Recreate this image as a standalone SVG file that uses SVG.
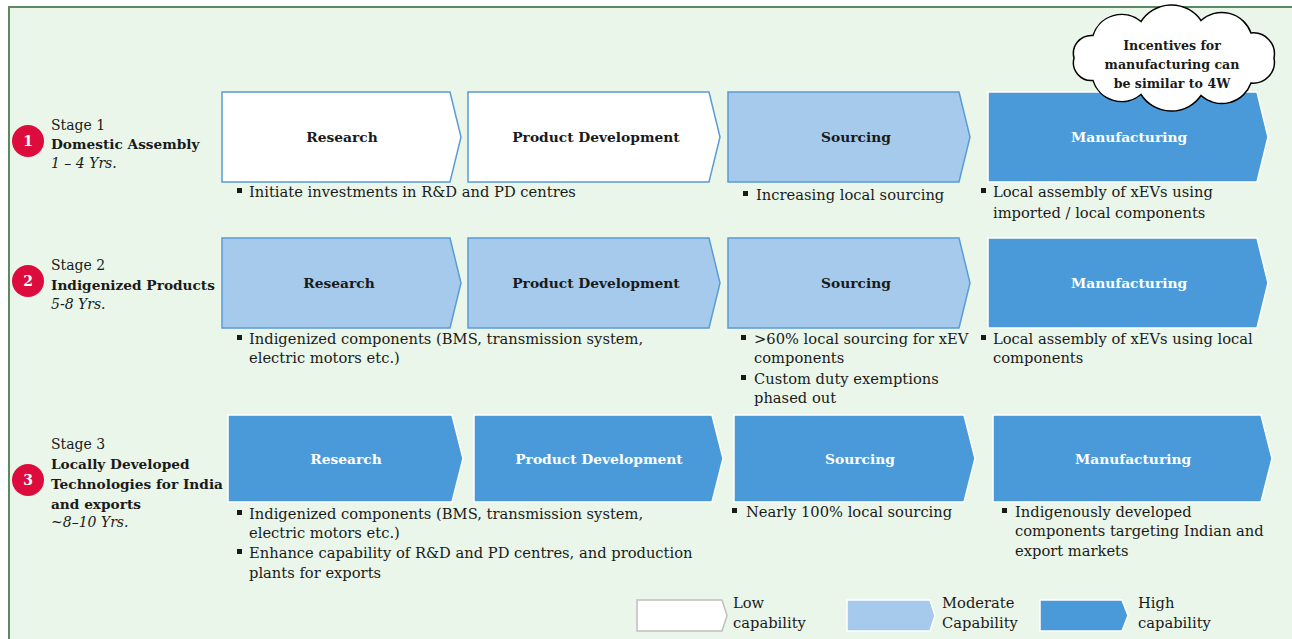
<svg xmlns="http://www.w3.org/2000/svg" width="1292" height="639" viewBox="0 0 1292 639">
<style>
  text { font-family: "DejaVu Serif", "Liberation Serif", serif; fill: #1a1a1a; }
  .body { font-size: 14.7px; }
  .lbl { font-size: 13.8px; font-weight: bold; text-anchor: middle; }
  .wl { fill: #ffffff; }
  .stg { font-size: 14px; }
  .b { font-weight: bold; font-size: 13.7px; }
  .i { font-style: italic; }
  .low { fill: #ffffff; stroke: #5b9bd5; stroke-width: 1.5; }
  .mod { fill: #a6caec; stroke: #5b9bd5; stroke-width: 1.5; }
  .high { fill: #4a9ada; stroke: #ffffff; stroke-width: 1.5; }
  .num { fill: #dc0d3d; }
  .numt { font-size: 14px; font-weight: bold; fill: #ffffff; text-anchor: middle; }
  .bul { fill: #1a1a1a; }
  .cloudt { font-size: 12.6px; font-weight: bold; text-anchor: middle; }
</style>
<rect x="0" y="0" width="1292" height="639" fill="#ffffff"/>
<rect id="panel" x="9" y="7" width="1300" height="660" fill="#e9f6e9" stroke="#5a8a5e" stroke-width="2"/>

<g id="stage1">
  <circle class="num" cx="28" cy="141" r="16"/>
  <text class="numt" x="28" y="146">1</text>
  <text class="stg" x="51" y="130">Stage 1</text>
  <text class="stg b" x="51" y="149">Domestic Assembly</text>
  <text class="stg i" x="51" y="168">1 – 4 Yrs.</text>
</g>
<g id="stage2">
  <circle class="num" cx="28" cy="281" r="16"/>
  <text class="numt" x="28" y="286">2</text>
  <text class="stg" x="51" y="270">Stage 2</text>
  <text class="stg b" x="51" y="290">Indigenized Products</text>
  <text class="stg i" x="51" y="309">5-8 Yrs.</text>
</g>
<g id="stage3">
  <circle class="num" cx="28" cy="480" r="16"/>
  <text class="numt" x="28" y="485">3</text>
  <text class="stg" x="51" y="449">Stage 3</text>
  <text class="stg b" x="51" y="469">Locally Developed</text>
  <text class="stg b" x="51" y="489">Technologies for India</text>
  <text class="stg b" x="51" y="509">and exports</text>
  <text class="stg i" x="51" y="527">~8–10 Yrs.</text>
</g>

<!-- Row 1 -->
<g id="r1-research">
  <path class="low" d="M222 92 H450 L461 137 L450 182 H222 Z"/>
  <text class="lbl" x="342" y="142">Research</text>
</g>
<g id="r1-pd">
  <path class="low" d="M468 92 H709 L720 137 L709 182 H468 Z"/>
  <text class="lbl" x="596" y="142">Product Development</text>
</g>
<g id="r1-sourcing">
  <path class="mod" d="M728 92 H959 L970 137 L959 182 H728 Z"/>
  <text class="lbl" x="856" y="142">Sourcing</text>
</g>
<g id="r1-manufacturing">
  <path class="high" d="M988 92 H1257 L1268 137 L1257 182 H988 Z"/>
  <text class="lbl wl" x="1129" y="142">Manufacturing</text>
</g>

<!-- Row 2 -->
<g id="r2-research">
  <path class="mod" d="M222 238 H450 L461 283 L450 328 H222 Z"/>
  <text class="lbl" x="339" y="288">Research</text>
</g>
<g id="r2-pd">
  <path class="mod" d="M468 238 H709 L720 283 L709 328 H468 Z"/>
  <text class="lbl" x="596" y="288">Product Development</text>
</g>
<g id="r2-sourcing">
  <path class="mod" d="M728 238 H959 L970 283 L959 328 H728 Z"/>
  <text class="lbl" x="856" y="288">Sourcing</text>
</g>
<g id="r2-manufacturing">
  <path class="high" d="M988 238 H1257 L1268 283 L1257 328 H988 Z"/>
  <text class="lbl wl" x="1129" y="288">Manufacturing</text>
</g>

<!-- Row 3 -->
<g id="r3-research">
  <path class="high" d="M228 415 H452 L463 458.5 L452 502 H228 Z"/>
  <text class="lbl wl" x="346" y="464">Research</text>
</g>
<g id="r3-pd">
  <path class="high" d="M474 415 H712 L723 458.5 L712 502 H474 Z"/>
  <text class="lbl wl" x="599" y="464">Product Development</text>
</g>
<g id="r3-sourcing">
  <path class="high" d="M734 415 H964 L975 458.5 L964 502 H734 Z"/>
  <text class="lbl wl" x="860" y="464">Sourcing</text>
</g>
<g id="r3-manufacturing">
  <path class="high" d="M993 415 H1261 L1272 458.5 L1261 502 H993 Z"/>
  <text class="lbl wl" x="1133" y="464">Manufacturing</text>
</g>

<!-- Bullets row 1 -->
<g id="notes1">
  <rect class="bul" x="237" y="188" width="5" height="5"/>
  <text class="body" x="249" y="197">Initiate investments in R&amp;D and PD centres</text>
  <rect class="bul" x="743" y="191" width="5" height="5"/>
  <text class="body" x="756" y="200">Increasing local sourcing</text>
  <rect class="bul" x="981" y="188" width="5" height="5"/>
  <text class="body" x="993" y="197">Local assembly of xEVs using</text>
  <text class="body" x="993" y="218">imported / local components</text>
</g>
<!-- Bullets row 2 -->
<g id="notes2">
  <rect class="bul" x="237" y="335" width="5" height="5"/>
  <text class="body" x="249" y="344">Indigenized components (BMS, transmission system,</text>
  <text class="body" x="249" y="363">electric motors etc.)</text>
  <rect class="bul" x="741" y="335" width="5" height="5"/>
  <text class="body" x="754" y="344">&gt;60% local sourcing for xEV</text>
  <text class="body" x="754" y="363">components</text>
  <rect class="bul" x="741" y="375" width="5" height="5"/>
  <text class="body" x="754" y="384">Custom duty exemptions</text>
  <text class="body" x="754" y="403">phased out</text>
  <rect class="bul" x="981" y="335" width="5" height="5"/>
  <text class="body" x="993" y="344">Local assembly of xEVs using local</text>
  <text class="body" x="993" y="363">components</text>
</g>
<!-- Bullets row 3 -->
<g id="notes3">
  <rect class="bul" x="237" y="510" width="5" height="5"/>
  <text class="body" x="249" y="519">Indigenized components (BMS, transmission system,</text>
  <text class="body" x="249" y="538">electric motors etc.)</text>
  <rect class="bul" x="237" y="549" width="5" height="5"/>
  <text class="body" x="249" y="558">Enhance capability of R&amp;D and PD centres, and production</text>
  <text class="body" x="249" y="578">plants for exports</text>
  <rect class="bul" x="732" y="508" width="5" height="5"/>
  <text class="body" x="746" y="517">Nearly 100% local sourcing</text>
  <rect class="bul" x="1002" y="508" width="5" height="5"/>
  <text class="body" x="1015" y="517">Indigenously developed</text>
  <text class="body" x="1015" y="536">components targeting Indian  and</text>
  <text class="body" x="1015" y="556">export markets</text>
</g>

<!-- Cloud callout -->
<g id="cloud">
  <path d="M1274 58 A21 21 0 0 1 1251 83 A31 31 0 0 1 1201 95.5 A36 36 0 0 1 1141 94.5 A30 30 0 0 1 1093 80.5 A18 18 0 0 1 1074 58 A18 18 0 0 1 1093 35.5 A30 30 0 0 1 1141 21.5 A36 36 0 0 1 1201 20.5 A31 31 0 0 1 1251 33 A21 21 0 0 1 1274 58 Z" fill="#ffffff" stroke="#000000" stroke-width="1.5"/>
  <text class="cloudt" x="1172" y="50">Incentives for</text>
  <text class="cloudt" x="1172" y="69">manufacturing can</text>
  <text class="cloudt" x="1172" y="88">be similar to 4W</text>
</g>

<!-- Legend -->
<g id="legend-low">
  <path d="M637 600 H722 L727 615.5 L722 631 H637 Z" fill="#ffffff" stroke="#bfbfbf" stroke-width="1.5"/>
  <text class="body" x="733" y="608">Low</text>
  <text class="body" x="733" y="628">capability</text>
</g>
<g id="legend-moderate">
  <path d="M847 600 H930 L935 615.5 L930 631 H847 Z" fill="#a6caec" stroke="#ffffff" stroke-width="1.5"/>
  <text class="body" x="942" y="608">Moderate</text>
  <text class="body" x="942" y="628">Capability</text>
</g>
<g id="legend-high">
  <path d="M1040 600 H1122 L1128 615.5 L1122 631 H1040 Z" fill="#4a9ada" stroke="#ffffff" stroke-width="1.5"/>
  <text class="body" x="1138" y="608">High</text>
  <text class="body" x="1138" y="628">capability</text>
</g>
<g id="connectors"></g>
</svg>
